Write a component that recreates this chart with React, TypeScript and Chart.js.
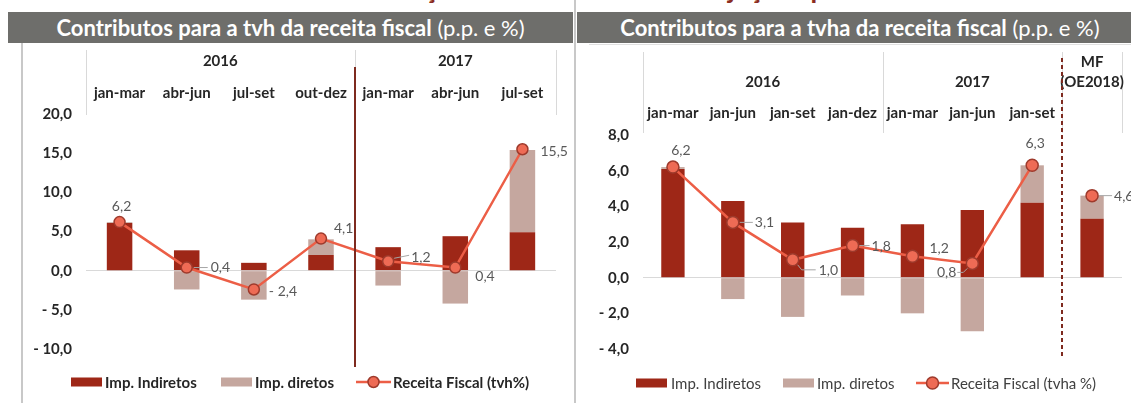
import React, { useEffect, useRef } from "react";
import { Chart, registerables } from "chart.js";

Chart.register(...registerables);

const FONT = "Lato, 'Open Sans', sans-serif";

// ---------- Left panel data ----------
const leftCategories = ["jan-mar", "abr-jun", "jul-set", "out-dez", "jan-mar", "abr-jun", "jul-set"];
const leftYearLabels = ["2016", "2017"];
const leftYearSpans = [[0, 3], [4, 6]];
const leftIndiretos = [6.1, 2.6, 1.0, 2.0, 3.0, 4.4, 4.9];
const leftDiretos = [0.1, -2.4, -3.7, 2.0, -1.9, -4.2, 10.5];
const leftReceita = [6.2, 0.4, -2.4, 4.1, 1.2, 0.4, 15.5];
const leftAxis = { min: -10, max: 20, step: 5 };

// ---------- Right panel data ----------
const rightCategories = ["jan-mar", "jan-jun", "jan-set", "jan-dez", "jan-mar", "jan-jun", "jan-set", ""];
const rightYearLabels = ["2016", "2017"];
const rightYearSpans = [[0, 3], [4, 6]];
const rightForecastLabel = ["MF", "(OE2018)"];
const rightIndiretos = [6.1, 4.3, 3.1, 2.8, 3.0, 3.8, 4.2, 3.3];
const rightDiretos = [0.1, -1.2, -2.2, -1.0, -2.0, -3.0, 2.1, 1.3];
const rightReceita: (number | null)[] = [6.2, 3.1, 1.0, 1.8, 1.2, 0.8, 6.3, null];
const rightReceitaMF: (number | null)[] = [null, null, null, null, null, null, null, 4.6];
const rightAxis = { min: -4, max: 8, step: 2 };

const legendLabels = ["Imp. Indiretos", "Imp. diretos"];
const leftLineLegend = "Receita Fiscal (tvh%)";
const rightLineLegend = "Receita Fiscal (tvha %)";

// ---------- Styles ----------
const DARK = "#9E2717";
const LIGHT = "#C5A79F";
const LINE = "#EC5E46";
const MARKER_FILL = "#EE6B55";
const MARKER_BORDER = "#9E3A2C";
const DIVIDER = "#7E2A1F";
const SEP = "#D9D9D9";
const TEXT = "#262626";
const LABEL = "#595959";
const AXIS_FONT = 15;

type LabelPos = { dx: number; dy: number; align: CanvasTextAlign; leader?: number[] };

const leftLabelPos: LabelPos[] = [
  { dx: 2, dy: -16, align: "center" },
  { dx: 24, dy: 0, align: "left", leader: [7, 0, 21, 0] },
  { dx: 15, dy: 2, align: "left" },
  { dx: 13, dy: -10, align: "left" },
  { dx: 23, dy: -4, align: "left", leader: [6, -3, 21, -6] },
  { dx: 20, dy: 9, align: "left" },
  { dx: 18, dy: 2, align: "left" },
];

const rightLabelPos: LabelPos[] = [
  { dx: 8, dy: -17, align: "center" },
  { dx: 22, dy: 0, align: "left", leader: [7, 0, 20, 0] },
  { dx: 26, dy: 11, align: "left", leader: [5, 5, 9, 10, 23, 10] },
  { dx: 19, dy: 1, align: "left", leader: [7, 0, 17, 0] },
  { dx: 17, dy: -8, align: "left" },
  { dx: -16, dy: 9, align: "right", leader: [-5, 5, -9, 9, -15, 9] },
  { dx: 3, dy: -22, align: "center" },
];
const rightMFLabelPos: LabelPos = { dx: 22, dy: 1, align: "left", leader: [7, 0, 20, 0] };

const fmt = (v: number) => (v < 0 ? "- " : "") + Math.abs(v).toFixed(1).replace(".", ",");

interface Deco {
  categories: string[];
  years: string[];
  yearSpans: number[][];
  sepBoundaries: number[];
  sepTop: number;
  sepBottom: number;
  yearY: number;
  catY: number;
  divider: { boundary: number; top: number; bottom: number; dashed: boolean };
  forecast?: { index: number; lines: string[]; ys: number[] };
  labelPos: LabelPos[];
  mfLabelPos?: LabelPos;
  legend: { y: number; darkX: number; darkText: number; lightX: number; lightText: number; lineX: number; lineW: number; lineText: number; lineLabel: string; bold: boolean; size: number };
  markerR: number;
}

function decoPlugin(d: Deco) {
  return {
    id: "deco",
    afterDraw(chart: any) {
      const ctx: CanvasRenderingContext2D = chart.ctx;
      const xs = chart.scales.x;
      const half = (xs.getPixelForValue(1) - xs.getPixelForValue(0)) / 2;
      const bx = (i: number) => xs.getPixelForValue(i) - half;
      ctx.save();
      // header separators
      ctx.strokeStyle = SEP;
      ctx.lineWidth = 1;
      d.sepBoundaries.forEach((b) => {
        const px = Math.round(bx(b)) + 0.5;
        ctx.beginPath();
        ctx.moveTo(px, d.sepTop);
        ctx.lineTo(px, d.sepBottom);
        ctx.stroke();
      });
      // years and categories
      ctx.fillStyle = TEXT;
      ctx.textBaseline = "middle";
      ctx.textAlign = "center";
      ctx.font = `bold ${AXIS_FONT}px ${FONT}`;
      d.years.forEach((y, k) => {
        const [a, b] = d.yearSpans[k];
        const cx = (xs.getPixelForValue(a) + xs.getPixelForValue(b)) / 2;
        ctx.fillText(y, cx, d.yearY);
      });
      d.categories.forEach((c, i) => {
        if (c) ctx.fillText(c, xs.getPixelForValue(i), d.catY);
      });
      if (d.forecast) {
        const fx = xs.getPixelForValue(d.forecast.index);
        d.forecast.lines.forEach((l, k) => ctx.fillText(l, fx, d.forecast!.ys[k]));
      }
      // divider
      const dx = Math.round(bx(d.divider.boundary));
      ctx.strokeStyle = DIVIDER;
      ctx.lineWidth = 2;
      if (d.divider.dashed) ctx.setLineDash([4, 3]);
      ctx.beginPath();
      ctx.moveTo(dx, d.divider.top);
      ctx.lineTo(dx, d.divider.bottom);
      ctx.stroke();
      ctx.setLineDash([]);

      // data labels
      const drawLabel = (pt: any, v: number, p: LabelPos) => {
        if (p.leader) {
          ctx.strokeStyle = "#A6A6A6";
          ctx.lineWidth = 1;
          ctx.beginPath();
          for (let k = 0; k < p.leader.length; k += 2) {
            const lx = pt.x + p.leader[k];
            const ly = pt.y + p.leader[k + 1];
            if (k === 0) ctx.moveTo(lx, ly);
            else ctx.lineTo(lx, ly);
          }
          ctx.stroke();
        }
        ctx.fillStyle = LABEL;
        ctx.font = `14px ${FONT}`;
        ctx.textAlign = p.align;
        ctx.textBaseline = "middle";
        ctx.fillText(fmt(v), pt.x + p.dx, pt.y + p.dy);
      };
      const lineMeta = chart.getDatasetMeta(2);
      const lineData = chart.data.datasets[2].data;
      lineMeta.data.forEach((pt: any, i: number) => {
        const v = lineData[i];
        if (v === null || v === undefined || !d.labelPos[i]) return;
        drawLabel(pt, v, d.labelPos[i]);
      });
      if (d.mfLabelPos && chart.data.datasets[3]) {
        const m = chart.getDatasetMeta(3);
        const dat = chart.data.datasets[3].data;
        m.data.forEach((pt: any, i: number) => {
          const v = dat[i];
          if (v === null || v === undefined) return;
          drawLabel(pt, v, d.mfLabelPos!);
        });
      }

      // legend
      const L = d.legend;
      ctx.font = `${L.bold ? "bold " : ""}${L.size}px ${FONT}`;
      ctx.textAlign = "left";
      ctx.textBaseline = "middle";
      ctx.fillStyle = DARK;
      ctx.fillRect(L.darkX, L.y - 4.5, 31, 9);
      ctx.fillStyle = LIGHT;
      ctx.fillRect(L.lightX, L.y - 4.5, 31, 9);
      ctx.strokeStyle = LINE;
      ctx.lineWidth = 2.5;
      ctx.beginPath();
      ctx.moveTo(L.lineX, L.y);
      ctx.lineTo(L.lineX + L.lineW, L.y);
      ctx.stroke();
      ctx.beginPath();
      ctx.arc(L.lineX + L.lineW / 2, L.y, d.markerR, 0, Math.PI * 2);
      ctx.fillStyle = MARKER_FILL;
      ctx.fill();
      ctx.strokeStyle = MARKER_BORDER;
      ctx.lineWidth = 1.5;
      ctx.stroke();
      ctx.fillStyle = L.bold ? TEXT : "#404040";
      ctx.fillText(legendLabels[0], L.darkText, L.y + 1);
      ctx.fillText(legendLabels[1], L.lightText, L.y + 1);
      ctx.fillText(L.lineLabel, L.lineText, L.y + 1);
      ctx.restore();
    },
  };
}

function buildConfig(opts: {
  categories: string[];
  ind: number[];
  dir: number[];
  rec: (number | null)[];
  mf?: (number | null)[];
  axis: { min: number; max: number; step: number };
  barPct: number;
  padding: { top: number; bottom: number; right: number };
  axisWidth: number;
  tickPad: number;
  markerR: number;
  deco: Deco;
}): any {
  const datasets: any[] = [
    { type: "bar", label: legendLabels[0], data: opts.ind, backgroundColor: DARK, stack: "bars", order: 2, categoryPercentage: 1, barPercentage: opts.barPct },
    { type: "bar", label: legendLabels[1], data: opts.dir, backgroundColor: LIGHT, stack: "bars", order: 2, categoryPercentage: 1, barPercentage: opts.barPct },
    {
      type: "line",
      label: "Receita",
      data: opts.rec,
      stack: "line",
      order: 0,
      borderColor: LINE,
      borderWidth: 2.5,
      pointRadius: opts.markerR,
      pointBackgroundColor: MARKER_FILL,
      pointBorderColor: MARKER_BORDER,
      pointBorderWidth: 1.5,
      tension: 0,
      spanGaps: false,
    },
  ];
  if (opts.mf) {
    datasets.push({
      type: "line",
      label: "MF",
      data: opts.mf,
      stack: "mf",
      order: 0,
      showLine: false,
      borderColor: LINE,
      pointRadius: opts.markerR,
      pointBackgroundColor: MARKER_FILL,
      pointBorderColor: MARKER_BORDER,
      pointBorderWidth: 1.5,
    });
  }
  return {
    type: "bar",
    data: { labels: opts.categories.map((c, i) => c || `c${i}`), datasets },
    options: {
      responsive: false,
      animation: false,
      layout: { padding: { top: opts.padding.top, bottom: opts.padding.bottom, right: opts.padding.right, left: 0 } },
      plugins: { legend: { display: false }, tooltip: { enabled: false } },
      scales: {
        x: { display: false, stacked: true, offset: true },
        y: {
          stacked: true,
          min: opts.axis.min,
          max: opts.axis.max,
          afterFit: (s: any) => {
            s.width = opts.axisWidth;
          },
          ticks: {
            stepSize: opts.axis.step,
            padding: opts.tickPad,
            color: TEXT,
            font: { family: FONT, weight: "bold", size: AXIS_FONT },
            callback: (v: any) => fmt(Number(v)),
          },
          grid: {
            drawTicks: false,
            color: (c: any) => (c.tick && c.tick.value === 0 ? SEP : "rgba(0,0,0,0)"),
            lineWidth: 1,
          },
          border: { display: false },
        },
      },
    },
    plugins: [decoPlugin(opts.deco)],
  };
}

function ChartCanvas({ make, left, top, width, height }: { make: () => any; left: number; top: number; width: number; height: number }) {
  const ref = useRef<HTMLCanvasElement>(null);
  useEffect(() => {
    const chart = new Chart(ref.current as HTMLCanvasElement, make());
    return () => chart.destroy();
  }, []);
  return <canvas ref={ref} width={width} height={height} style={{ position: "absolute", left, top, width, height }} />;
}

const makeLeft = () =>
  buildConfig({
    categories: leftCategories,
    ind: leftIndiretos,
    dir: leftDiretos,
    rec: leftReceita,
    axis: leftAxis,
    barPct: 0.38,
    padding: { top: 72, bottom: 54, right: 16 },
    axisWidth: 64,
    tickPad: 14,
    markerR: 5.5,
    deco: {
      categories: leftCategories,
      years: leftYearLabels,
      yearSpans: leftYearSpans,
      sepBoundaries: [0, 4, 7],
      sepTop: 8,
      sepBottom: 73,
      yearY: 19,
      catY: 51,
      divider: { boundary: 4, top: 25, bottom: 325, dashed: false },
      labelPos: leftLabelPos,
      legend: { y: 340, darkX: 49, darkText: 83, lightX: 199, lightText: 233, lineX: 334, lineW: 35, lineText: 371, lineLabel: leftLineLegend, bold: true, size: 15 },
      markerR: 5.5,
    },
  });

const makeRight = () =>
  buildConfig({
    categories: rightCategories,
    ind: rightIndiretos,
    dir: rightDiretos,
    rec: rightReceita,
    mf: rightReceitaMF,
    axis: rightAxis,
    barPct: 0.39,
    padding: { top: 93, bottom: 54, right: 9 },
    axisWidth: 67,
    tickPad: 14,
    markerR: 6,
    deco: {
      categories: rightCategories,
      years: rightYearLabels,
      yearSpans: rightYearSpans,
      sepBoundaries: [0, 4, 7, 8],
      sepTop: 10,
      sepBottom: 91,
      yearY: 40,
      catY: 71,
      divider: { boundary: 7, top: 16, bottom: 316, dashed: true },
      forecast: { index: 7, lines: rightForecastLabel, ys: [20, 40] },
      labelPos: rightLabelPos,
      mfLabelPos: rightMFLabelPos,
      legend: { y: 341, darkX: 60, darkText: 95, lightX: 207, lightText: 241, lineX: 340, lineW: 33, lineText: 375, lineLabel: rightLineLegend, bold: false, size: 15 },
      markerR: 6,
    },
  });

const headerStyle: React.CSSProperties = {
  position: "absolute",
  top: 12,
  height: 31,
  background: "#6E6E6B",
  color: "#FFFFFF",
  fontSize: 22,
  lineHeight: "31px",
  textAlign: "center",
  whiteSpace: "nowrap",
  fontFamily: FONT,
  overflow: "hidden",
};

export default function App() {
  return (
    <div style={{ position: "fixed", left: 0, top: 0, width: 1131, height: 403, background: "#FFFFFF", overflow: "hidden", fontFamily: FONT }}>
      <div
        style={{
          position: "absolute",
          left: 0,
          width: 1152,
          top: -25,
          height: 27,
          fontSize: 27,
          lineHeight: "27px",
          fontWeight: "bold",
          color: "#8B2C22",
          textAlign: "center",
          whiteSpace: "nowrap",
        }}
      >
        Gráfico 4 – Evolução da receita fiscal e Projeções para 2018
      </div>
      <div style={{ ...headerStyle, left: 8, width: 565 }}>
        <b>Contributos para a tvh da receita fiscal</b> <span style={{ fontWeight: "normal" }}>(p.p. e %)</span>
      </div>
      <div style={{ ...headerStyle, left: 577, width: 554, paddingLeft: 12, boxSizing: "border-box" }}>
        <b>Contributos para a tvha da receita fiscal</b> <span style={{ fontWeight: "normal" }}>(p.p. e %)</span>
      </div>
      <div style={{ position: "absolute", left: 21, top: 43, width: 2, height: 360, background: "#C8C8C8" }} />
      <div style={{ position: "absolute", left: 574, top: 0, width: 2, height: 403, background: "#C8C8C8" }} />
      <div style={{ position: "absolute", left: 589, top: 44, width: 542, height: 1, background: "#E0E0E0" }} />
      <ChartCanvas make={makeLeft} left={22} top={42} width={550} height={361} />
      <ChartCanvas make={makeRight} left={576} top={42} width={555} height={361} />
    </div>
  );
}
